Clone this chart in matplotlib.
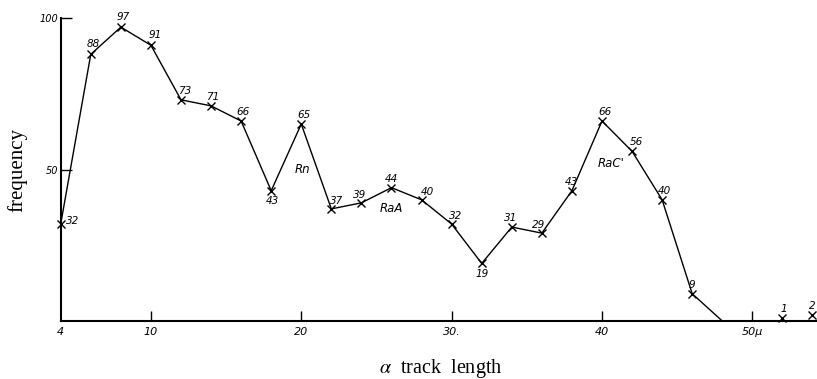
import matplotlib
matplotlib.use("Agg")
import matplotlib.pyplot as plt

plt.rcParams["mathtext.fontset"] = "stix"

# data
track_len = [4, 6, 8, 10, 12, 14, 16, 18, 20, 22, 24, 26, 28, 30, 32, 34, 36, 38, 40, 42, 44, 46, 48]
freq = [32, 88, 97, 91, 73, 71, 66, 43, 65, 37, 39, 44, 40, 32, 19, 31, 29, 43, 66, 56, 40, 9, 0]
extra_len = [52, 54]
extra_freq = [1, 2]
x_ticks = [4, 10, 20, 30, 40, 50]
x_ticklabels = ["4", "10", "20", "30.", "40", "50\u03bc"]
y_ticks = [50, 100]
y_ticklabels = ["50", "100"]
peaks = ["Rn", "RaA", "RaC'"]
peak_x = [20.1, 26.0, 40.6]
peak_y = [50, 37, 52]

# label offsets (points): (dx, dy, ha, va)
offsets = [
    (4, 2, "left", "center"), (2, 4, "center", "bottom"), (2, 4, "center", "bottom"),
    (3, 4, "center", "bottom"), (3, 3, "center", "bottom"), (1, 3, "center", "bottom"),
    (1, 3, "center", "bottom"), (1, -4, "center", "top"), (2, 3, "center", "bottom"),
    (4, 2, "center", "bottom"), (-1, 2, "center", "bottom"), (0, 3, "center", "bottom"),
    (4, 2, "center", "bottom"), (3, 2, "center", "bottom"), (0, -4, "center", "top"),
    (-1, 3, "center", "bottom"), (-2, 2, "center", "bottom"), (0, 3, "center", "bottom"),
    (2, 3, "center", "bottom"), (3, 3, "center", "bottom"), (2, 3, "center", "bottom"),
    (0, 3, "center", "bottom"), None,
]
extra_offsets = [(1, 3, "center", "bottom"), (2, 3, "right", "bottom")]

hand = dict(fontfamily="DejaVu Sans", fontstyle="italic", fontsize=7.5, color="black")

fig = plt.figure(figsize=(8.17, 3.79), dpi=100)
ax = fig.add_axes([60.7 / 817, (379 - 321) / 379, 1 - 60.7 / 817, (321 - 18) / 379])
ax.set_xlim(4, 54.3)
ax.set_ylim(0, 100)

ax.plot(track_len, freq, color="black", lw=1.0, clip_on=False)
ax.plot(track_len[:-1], freq[:-1], ls="none", marker="x", ms=6, mew=1.0, color="black", clip_on=False)
ax.plot(extra_len, extra_freq, ls="none", marker="x", ms=6, mew=1.0, color="black", clip_on=False)

for x, y, off in zip(track_len, freq, offsets):
    if off is None:
        continue
    dx, dy, ha, va = off
    ax.annotate(str(y), (x, y), xytext=(dx, dy), textcoords="offset points",
                ha=ha, va=va, annotation_clip=False, **hand)
for x, y, off in zip(extra_len, extra_freq, extra_offsets):
    dx, dy, ha, va = off
    ax.annotate(str(y), (x, y), xytext=(dx, dy), textcoords="offset points",
                ha=ha, va=va, annotation_clip=False, **hand)

for name, px, py in zip(peaks, peak_x, peak_y):
    ax.text(px, py, name, ha="center", va="center", fontfamily="DejaVu Sans",
            fontstyle="italic", fontsize=8.5)

for s in ["top", "right"]:
    ax.spines[s].set_visible(False)
ax.spines["left"].set_linewidth(1.5)
ax.spines["bottom"].set_linewidth(1.5)

ax.set_xticks(x_ticks)
ax.set_xticklabels(x_ticklabels, fontfamily="DejaVu Sans", fontstyle="italic", fontsize=8)
ax.set_yticks(y_ticks)
ax.set_yticklabels(y_ticklabels, fontfamily="DejaVu Sans", fontstyle="italic", fontsize=7)
ax.tick_params(axis="x", direction="in", length=7, width=1, pad=4)
ax.tick_params(axis="y", direction="in", length=8, width=1, pad=2)
ax.xaxis.get_major_ticks()[0].tick1line.set_visible(False)

ax.set_ylabel("frequency", fontfamily="Liberation Serif", fontsize=15)
ax.set_xlabel("$\\alpha$  track  length", fontfamily="Liberation Serif", fontsize=14.5)
ax.xaxis.set_label_coords((441 - 60.7) / (817 - 60.7), -(368 - 321) / 303)
ax.xaxis.label.set_va("center")
ax.yaxis.set_label_coords(-(60.7 - 17) / (817 - 60.7), (321 - 170) / 303)
ax.yaxis.label.set_va("center")

fig.savefig("out.png", dpi=100)
